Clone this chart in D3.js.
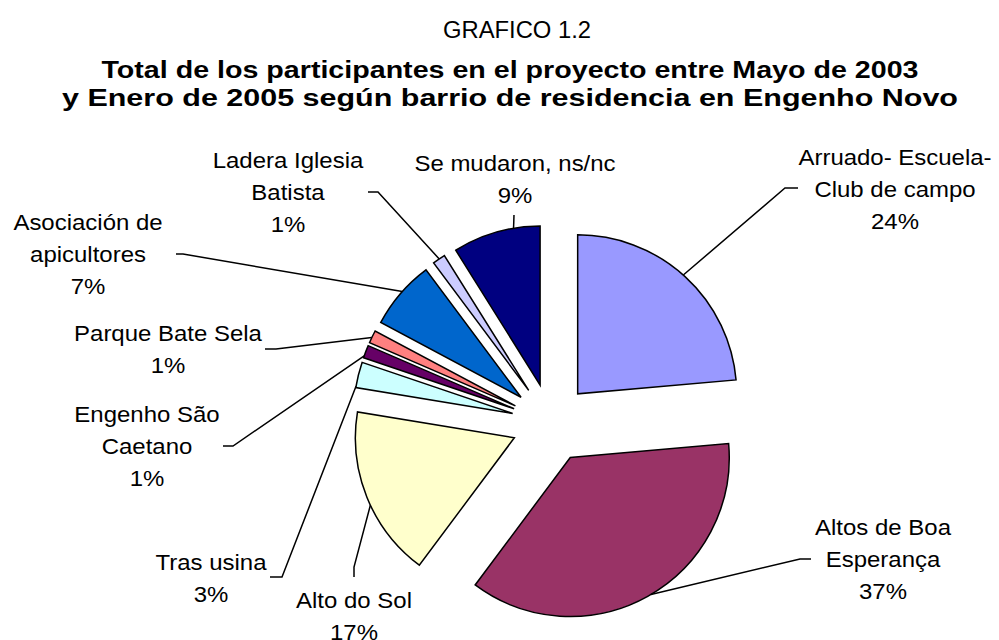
<!DOCTYPE html>
<html><head><meta charset="utf-8">
<script src="https://cdn.jsdelivr.net/npm/d3@7"></script>
<style>body{margin:0;background:#fff} text{font-family:"Liberation Sans",Arial,sans-serif;fill:#000}</style>
</head><body><svg id="c" width="999" height="640"></svg>
<script>
// ---- data ----
const categories = ["Arruado- Escuela-\nClub de campo", "Altos de Boa\nEsperança", "Alto do Sol", "Tras usina", "Engenho São\nCaetano", "Parque Bate Sela", "Asociación de\napicultores", "Ladera Iglesia\nBatista", "Se mudaron, ns/nc"];
const values = [23.6, 36.6, 17.4, 2.6, 1.3, 1.3, 7.0, 1.3, 8.9];
const colors = ["#9999FF", "#993366", "#FFFFCC", "#CCFFFF", "#660066", "#FF8080", "#0066CC", "#CCCCFF", "#000080"];
const supTitle = "GRAFICO 1.2";
const titleLines = ["Total de los participantes en el proyecto entre Mayo de 2003", "y Enero de 2005 según barrio de residencia en Engenho Novo"];

// ---- layout ----
const cx = 551, cy = 423, R = 159, explode = 39.5, lineH = 32, labelStretch = 1.09;
const titleWidths = [817, 896];
const labelLayout = [
  {x: 895, y: 165, path: [[798, 188], [785, 188]], f: 0.49},
  {x: 883, y: 535, path: [[811, 559], [800, 559]], f: 0.49},
  {x: 354, y: 608, path: [[354, 577], [354, 567]], f: 0.45},
  {x: 211, y: 570, path: [[270, 577], [282, 577]], f: 0.05},
  {x: 147, y: 422, path: [[223, 446], [233, 446]], f: 0.15},
  {x: 168, y: 341, path: [[265, 349], [276, 349]], f: 0.43},
  {x: 88, y: 230, path: [[176, 254], [183, 254]], f: 0.54},
  {x: 288, y: 168, path: [[368, 192], [378, 192]], f: 0.53},
  {x: 515, y: 171, path: [[514, 215]], f: 0.7}
];

const svg = d3.select("#c");
const total = d3.sum(values);
const pie = d3.pie().sort(null).value(d => d);
const arcs = pie(values);
const arc = d3.arc().innerRadius(0).outerRadius(R);

const off = a => { const m = (a.startAngle + a.endAngle) / 2; return [explode * Math.sin(m), -explode * Math.cos(m)]; };

const g = svg.append("g").attr("transform", `translate(${cx},${cy})`);
g.selectAll("path.slice").data(arcs).join("path")
  .attr("class", "slice")
  .attr("d", arc)
  .attr("transform", d => { const o = off(d); return `translate(${o[0]},${o[1]})`; })
  .attr("fill", (d, i) => colors[i])
  .attr("stroke", "#000").attr("stroke-width", 1.5).attr("stroke-linejoin", "miter");

// leader lines
const line = d3.line();
arcs.forEach((d, i) => {
  const L = labelLayout[i];
  const a = d.startAngle + L.f * (d.endAngle - d.startAngle);
  const o = off(d);
  const end = [cx + o[0] + R * Math.sin(a), cy + o[1] - R * Math.cos(a)];
  svg.append("path").attr("d", line([...L.path, end]))
    .attr("fill", "none").attr("stroke", "#000").attr("stroke-width", 1.5);
});

// labels
arcs.forEach((d, i) => {
  const L = labelLayout[i];
  const lines = categories[i].split("\n").concat([Math.round(d.data / total * 100) + "%"]);
  const t = svg.append("text").attr("text-anchor", "middle").attr("font-size", 22)
    .attr("transform", `translate(${L.x},0) scale(${labelStretch},1)`);
  lines.forEach((s, k) => t.append("tspan").attr("x", 0).attr("y", L.y + k * lineH).text(s));
});

// titles
svg.append("text").attr("x", 517).attr("y", 38).attr("text-anchor", "middle").attr("font-size", 23)
  .attr("textLength", 148).attr("lengthAdjust", "spacingAndGlyphs").text(supTitle);
titleLines.forEach((s, k) => svg.append("text").attr("x", 510).attr("y", 78 + k * 28)
  .attr("text-anchor", "middle").attr("font-size", 23).attr("font-weight", "bold")
  .attr("textLength", titleWidths[k]).attr("lengthAdjust", "spacingAndGlyphs").text(s));
</script></body></html>
